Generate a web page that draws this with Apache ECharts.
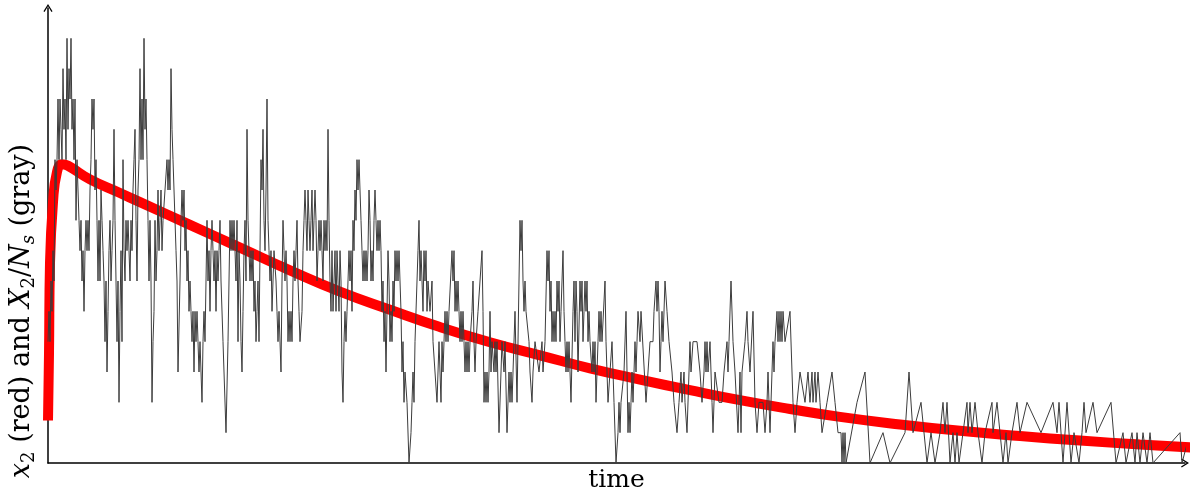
<!DOCTYPE html>
<html>
<head>
<meta charset="utf-8">
<title>x2 and X2/Ns over time</title>
<script src="https://cdn.jsdelivr.net/npm/echarts@6.0.0/dist/echarts.min.js"></script>
<style>
  html, body { margin: 0; padding: 0; background: #fff; }
  #chart { width: 1198px; height: 492px; }
</style>
</head>
<body>
<div id="chart"></div>
<script>
// time runs in arbitrary units, 0 .. 1137 across the axis
var timeMax = 1137;
var levelMax = 15;

// deterministic solution x2(t)
var redCurve = [
  [0, 1.4], [1, 3.6], [2, 6.6], [5, 8.6], [9, 9.6], [14, 9.85], [20, 9.8],
  [42, 9.35], [72, 8.9], [92, 8.6], [142, 7.85], [192, 7.1], [242, 6.35],
  [292, 5.65], [342, 5.05], [392, 4.48], [442, 3.98], [492, 3.55], [542, 3.12],
  [592, 2.75], [642, 2.4], [692, 2.07], [742, 1.78], [792, 1.52], [852, 1.27],
  [912, 1.06], [972, 0.89], [1032, 0.74], [1092, 0.61], [1150, 0.5]
];

// one stochastic run X2/Ns
var grayPath = [
  [0,4],[1,5],[2,4],[3,6],[4,5],[5,7],[6,6],[7,10],[8,9],[9,10],[10,12],[11,10],[12,12],[13,11],[14,10],
  [15,13],[16,11],[17,12],[18,10],[19,14],[20,11],[21,13],[22,12],[23,14],[24,11],[25,12],[26,10],[27,12],
  [28,8],[29,10],[30,9],[31,8],[32,7],[33,8],[34,6],[35,7],[36,5],[37,7],[38,8],[39,7],[40,8],[41,7],[42,9],
  [43,10],[44,12],[45,11],[46,12],[47,9],[48,10],[49,8],[50,6],[51,8],[52,6],[53,9],[54,8],[55,7],[56,6],
  [57,4],[58,6],[59,3],[60,5],[61,7],[62,8],[63,6],[64,7],[65,8],[66,11],[67,8],[68,6],[69,4],[70,6],[71,2],
  [72,5],[73,7],[74,4],[75,10],[76,7],[77,6],[78,8],[79,7],[80,8],[81,7],[82,6],[83,8],[84,7],[85,9],[86,10],
  [87,11],[88,8],[89,6],[90,9],[91,10],
  [92,13],[93,10],[94,12],[95,10],[96,14],[97,11],[98,12],[99,10],[100,8],[101,6],[102,8],[103,6],[104,2],
  [105,4],[106,5],[107,8],[108,6],[109,7],[110,9],[111,7],[112,8],[113,9],[114,7],[115,8],[117,9],[119,10],
  [120,9],[121,10],[122,9],[123,13],[124,11],[125,10],[126,9],[127,9],[128,7],[129,6],[130,3],[132,6],[133,8],
  [134,9],[135,8],[136,9],[137,7],[138,8],[139,6],[140,7],[141,5],[142,6],[143,5],[144,4],[145,5],[146,3],
  [147,5],[148,4],[149,5],[150,4],[151,3],[152,4],[154,2],[155,4],[156,5],[157,4],[158,6],[159,8],[160,6],
  [161,7],[162,5],[163,7],[164,8],[165,7],[166,6],[167,7],[168,5],[169,7],[170,6],[171,7],[172,8],[173,6],
  [175,4],[178,1],[180,4],[182,8],[183,7],[184,8],[185,7],[186,8],[187,7],[188,6],[189,8],[190,4],[191,7],[192,6],
  [193,4],[194,3],[195,5],[196,7],[197,8],[198,6],[199,11],[200,8],[201,7],[202,6],[203,7],[204,6],[205,7],
  [206,5],[207,6],[208,4],[209,5],[210,6],[211,4],[212,7],[213,10],[214,9],[215,11],[216,8],[217,7],[218,9],
  [219,12],[220,8],[221,7],[222,6],[223,7],[224,5],[225,6],[226,7],[227,7],[228,6],[229,5],[230,4],[231,5],
  [233,3],[234,6],[235,8],[236,7],[237,6],[238,7],[239,6],[240,4],[241,5],[242,4],[243,5],[244,4],[245,6],
  [246,7],[247,6],[248,7],[249,8],[250,6],[251,5],[252,4],[254,5],[255,7],[256,8],[257,9],[258,8],[259,7],
  [260,9],[261,8],[262,7],[263,8],[264,9],[265,7],[266,8],[267,9],[268,8],[269,6],[270,7],[271,8],[272,7],
  [273,8],[274,7],[275,6],[276,8],[277,7],[278,8],[279,7],[280,11],[281,8],[282,6],[283,5],[284,7],[285,5],
  [286,6],[287,7],[288,5],[289,7],[290,6],[291,5],[292,7],
  [293,6],[294,3],[295,2],[296,4],[297,5],[298,4],[299,5],[300,5],[301,7],[302,6],[303,7],[304,5],[305,8],
  [306,7],[307,9],[308,8],[309,10],[310,9],[311,10],[312,9],[313,8],[314,7],[315,6],[316,7],[317,6],[318,7],
  [319,6],[320,7],[321,9],[322,8],[323,6],[324,7],[325,6],[326,8],[327,9],[328,8],[329,7],[330,8],[331,7],
  [332,8],[333,7],[334,5],[335,6],[336,4],[337,5],[338,3],[339,5],[340,7],[341,6],[342,4],[343,5],[344,4],
  [345,6],[346,5],[347,7],[348,6],[349,7],[350,6],[351,7],[352,6],[353,5],[354,3],[355,4],[356,2],[357,3],
  [359,2],[361,0],[363,1],[364,2],[365,3],[366,2],[367,4],[369,6],[370,7],[371,8],[372,6],[373,7],[374,6],
  [375,5],[376,7],[377,6],[378,7],[379,5],[380,6],[382,5],[384,6],[385,4],[387,3],[389,2],[391,4],[392,3],
  [393,2],[394,4],[395,3],[396,4],[397,5],[398,4],[399,5],[400,4],[401,5],[402,5],[404,7],[405,6],[406,7],
  [407,5],[408,6],[409,5],[410,6],[411,5],[412,4],[413,5],[414,4],[415,5],[416,4],[417,3],[418,4],[419,3],
  [420,4],[421,3],[422,4],[424,5],[425,6],[426,4],[427,3],[428,4],[430,5],[432,6],[434,7],[435,5],[436,2],
  [437,3],[438,2],[439,3],[440,2],[441,3],[442,5],[443,3],[444,4],[445,4],[446,3],[447,4],[448,3],[449,4],
  [451,1],[454,4],[456,3],[457,4],[459,1],[461,3],[462,2],[463,3],[464,2],[465,3],[467,5],[469,2],[471,6],
  [472,8],[473,7],[474,8],[475,6],[476,5],[477,6],[478,5],[479,5],[481,4],[482,3],[484,2],[485,3],[487,4],
  [489,4],[491,3],
  [493,3],[494,4],[495,3],[497,4],[499,7],[500,6],[501,7],[502,5],[503,6],[504,4],[505,5],[506,4],[507,5],
  [508,4],[509,6],[510,5],[511,6],[512,4],[513,5],[515,7],[516,5],[517,4],[518,3],[519,4],[520,3],[521,4],
  [523,2],[525,5],[526,6],[527,4],[528,6],[529,5],[530,3],[532,6],[533,5],[534,6],[535,4],[536,5],[537,6],
  [538,5],[539,6],[540,4],[541,5],[542,4],[544,3],[545,4],[546,3],[547,4],[548,2],[550,4],[551,5],[552,4],
  [553,5],[554,4],[555,4],[557,6],[558,4],[560,2],[562,3],[564,4],[565,3],[566,2],[568,0],[570,1],[571,2],
  [572,1],[573,2],[574,2],[576,3],[578,5],[579,3],[580,1],[581,2],[582,1],[583,2],[584,3],[585,2],[586,3],
  [587,4],[588,3],[589,4],[590,5],[592,4],
  [593,5],[595,5],[598,2],[600,3],[602,4],[605,4],[606,5],[608,6],[609,5],[610,6],[611,5],[612,3],[613,4],
  [614,5],[615,4],[617,6],[618,6],[619,5],[621,4],[624,3],[626,2],[629,1],[631,2],[633,3],[634,2],[636,3],
  [637,2],[639,1],[641,3],[642,4],[643,3],[645,4],[647,4],[649,4],[652,3],[654,2],[656,3],[657,4],[658,3],
  [659,4],[660,3],[662,4],[664,2],[665,1],[667,3],[669,3],[671,2],[674,2],[676,3],[679,4],[680,3],[681,4],
  [683,6],[685,4],[687,3],[690,1],[692,3],
  [693,1],[694,3],[695,3],[697,4],[699,5],[700,4],[702,3],[705,5],[707,2],[709,1],[711,2],[713,2],[715,2],
  [717,1],[719,2],[720,3],[722,1],[724,3],[725,4],[726,3],[727,4],[729,5],[730,4],[731,5],[732,4],[733,5],
  [734,4],[735,5],[737,4],[742,5],[745,2],[747,1],[749,2],[752,3],[754,3],[757,2],[759,2],[760,3],[762,2],
  [764,3],[765,2],[767,3],[768,2],[770,3],[772,2],[774,1],[776,1],[779,2],[784,3],[787,2],[790,1],[792,1],
  [793,1],[794,0],[795,1],[796,0],[797,1],[798,0],[800,0],[809,2],[817,3],[822,0],[835,1],[842,0],[857,1],
  [861,3],[865,1],[873,2],[879,0],[883,1],[887,0],[892,1],[895,2],[897,1],[899,2],[902,0],[905,1],[907,0],
  [909,1],[911,0],
  [915,1],[919,2],[920,1],[922,2],[924,1],[927,2],[930,1],[934,0],[937,1],[944,2],[945,1],[949,2],[952,1],
  [955,0],[958,1],[959,1],[960,0],[964,1],[969,2],[972,1],[979,2],[981,2],[993,1],[1005,2],[1009,1],[1011,2],
  [1015,0],[1019,2],[1023,0],[1026,1],[1031,0],
  [1034,1],[1036,2],[1038,1],[1045,2],[1049,1],[1063,2],[1068,0],[1075,1],[1078,0],[1084,1],[1087,0],
  [1089,1],[1092,0],[1095,1],[1099,0],[1102,1],[1105,0],[1107,0],[1132,1],[1134,0],[1142,1]
];

var serifFont = 'DejaVu Serif';
var arrowHead = 'path://M0,8 L5,0 L10,8 L8.8,8.8 L5,2.6 L1.2,8.8 Z';

var chart = echarts.init(document.getElementById('chart'), null, { renderer: 'canvas' });

var option = {
  animation: false,
  backgroundColor: '#fff',
  grid: {
    left: 48,
    right: 13,
    top: 8,
    bottom: 29,
    containLabel: false,
    outerBoundsMode: 'none'
  },
  xAxis: {
    type: 'value',
    min: 0,
    max: timeMax,
    name: 'time',
    nameLocation: 'middle',
    nameGap: 5,
    nameTextStyle: {
      fontFamily: serifFont,
      fontSize: 25,
      color: '#000',
      verticalAlign: 'top'
    },
    axisLine: {
      show: true,
      onZero: false,
      symbol: ['none', arrowHead],
      symbolSize: [12, 8],
      lineStyle: { color: '#000', width: 1.5 }
    },
    axisTick: { show: false },
    axisLabel: { show: false },
    splitLine: { show: false }
  },
  yAxis: {
    type: 'value',
    min: 0,
    max: levelMax,
    axisLine: {
      show: true,
      onZero: false,
      symbol: ['none', arrowHead],
      symbolSize: [12, 8],
      lineStyle: { color: '#000', width: 1.5 }
    },
    axisTick: { show: false },
    axisLabel: { show: false },
    splitLine: { show: false }
  },
  graphic: [{
    type: 'text',
    x: 22,
    y: 311,
    rotation: Math.PI / 2,
    style: {
      text: '{i|x}{s|2} (red) and {i|X}{s|2}/{i|N}{si|s} (gray)',
      fontFamily: serifFont,
      fontSize: 27,
      lineHeight: 32,
      fill: '#000',
      align: 'center',
      verticalAlign: 'middle',
      rich: {
        i: { fontFamily: serifFont, fontSize: 27, fontStyle: 'italic', lineHeight: 32 },
        s: { fontFamily: serifFont, fontSize: 18, lineHeight: 15, verticalAlign: 'bottom' },
        si: { fontFamily: serifFont, fontSize: 18, fontStyle: 'italic', lineHeight: 15, verticalAlign: 'bottom' }
      }
    }
  }],
  series: [
    {
      name: 'x2',
      type: 'line',
      data: redCurve,
      smooth: 0.5,
      showSymbol: false,
      symbol: 'none',
      clip: false,
      z: 2,
      lineStyle: { color: '#ff0000', width: 10, cap: 'butt', join: 'round' }
    },
    {
      name: 'X2/Ns',
      type: 'line',
      data: grayPath,
      showSymbol: false,
      symbol: 'none',
      clip: false,
      z: 3,
      lineStyle: { color: '#3c3c3c', width: 1 }
    }
  ]
};

chart.setOption(option);
</script>
</body>
</html>
